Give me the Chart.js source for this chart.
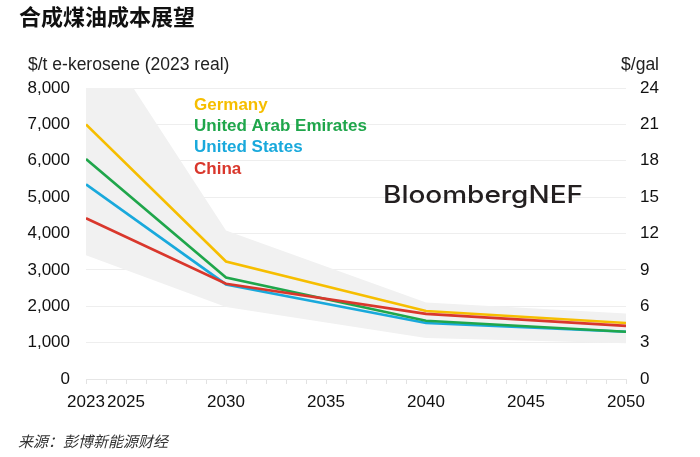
<!doctype html>
<html>
	<head>
		<meta charset="utf-8" />
		<title>合成煤油成本展望</title>
		<script src="https://cdn.jsdelivr.net/npm/chart.js@4/dist/chart.umd.min.js"></script>
		<style>
			html,
			body {
				margin: 0;
				padding: 0;
				background: #fff;
			}
		</style>
	</head>
	<body>
		<canvas id="chartJSContainer" width="700" height="457"></canvas>
		<script>
			// data
			const years = [2023, 2030, 2040, 2050];
			const germany = [7000, 3230, 1870, 1540];
			const uae = [6050, 2790, 1600, 1300];
			const unitedStates = [5350, 2600, 1540, 1300];
			const china = [4420, 2620, 1790, 1460];
			const rangeHigh = [10000, 4080, 2100, 1800];
			const rangeLow = [3400, 1980, 1130, 980];
			const xTickLabels = [2023, 2025, 2030, 2035, 2040, 2045, 2050];

			const seriesNames = ["Germany", "United Arab Emirates", "United States", "China"];
			const seriesColors = ["#f6be00", "#1fa64b", "#19a9dc", "#d9372c"];

			const latin = '"Liberation Sans", Arial, sans-serif';
			const cjk = '"Noto Sans CJK SC", sans-serif';

			const toPoints = (vals) => vals.map((v, i) => ({ x: years[i], y: v }));

			function lineSet(label, vals, color) {
				return {
					label: label,
					data: toPoints(vals),
					borderColor: color,
					backgroundColor: color,
					borderWidth: 2.6,
					pointRadius: 0,
					tension: 0,
					fill: false,
				};
			}

			const textPlugin = {
				id: "texts",
				afterDraw(chart) {
					const ctx = chart.ctx;
					ctx.save();
					ctx.textBaseline = "middle";

					// title
					ctx.fillStyle = "#111";
					ctx.font = "bold 22px " + cjk;
					ctx.textAlign = "left";
					ctx.fillText("合成煤油成本展望", 19, 17);

					// axis titles
					ctx.font = "17.5px " + latin;
					ctx.fillStyle = "#222";
					ctx.fillText("$/t e-kerosene (2023 real)", 28, 65);
					ctx.textAlign = "right";
					ctx.fillText("$/gal", 659, 65);

					// legend
					ctx.textAlign = "left";
					ctx.font = "bold 17px " + latin;
					seriesNames.forEach((n, i) => {
						ctx.fillStyle = seriesColors[i];
						ctx.fillText(n, 194, 105 + i * 21.3);
					});

					// watermark, squeezed to the width it has in the original
					ctx.fillStyle = "#231f20";
					ctx.font = "500 24px Inter, " + latin;
					const w = ctx.measureText("BloombergNEF").width;
					ctx.translate(383, 196);
					ctx.scale(200 / w, 1);
					ctx.fillText("BloombergNEF", 0, 0);
					ctx.setTransform(1, 0, 0, 1, 0, 0);

					// source
					ctx.fillStyle = "#333";
					ctx.font = "italic 15px " + cjk;
					ctx.fillText("来源：彭博新能源财经", 18, 441);
					ctx.restore();
				},
			};

			const ctx = document.getElementById("chartJSContainer").getContext("2d");
			new Chart(ctx, {
				type: "line",
				data: {
					datasets: [
						lineSet("China", china, seriesColors[3]),
						lineSet("Germany", germany, seriesColors[0]),
						lineSet("United Arab Emirates", uae, seriesColors[1]),
						lineSet("United States", unitedStates, seriesColors[2]),
						{
							label: "high",
							data: toPoints(rangeHigh),
							borderWidth: 0,
							pointRadius: 0,
							backgroundColor: "#f1f1f1",
							borderColor: "rgba(0,0,0,0)",
							fill: "+1",
						},
						{
							label: "low",
							data: toPoints(rangeLow),
							borderWidth: 0,
							pointRadius: 0,
							borderColor: "rgba(0,0,0,0)",
							fill: false,
						},
					],
				},
				options: {
					responsive: false,
					animation: false,
					devicePixelRatio: 1,
					layout: { padding: { top: 88, left: 0, right: 0, bottom: 0 } },
					plugins: {
						legend: { display: false },
						tooltip: { enabled: false },
						filler: { drawTime: "beforeDatasetsDraw" },
					},
					scales: {
						x: {
							type: "linear",
							min: 2023,
							max: 2050,
							afterBuildTicks(scale) {
								const t = [];
								for (let y = 2023; y <= 2050; y++) t.push({ value: y });
								scale.ticks = t;
							},
							afterFit(scale) {
								scale.height = 78;
							},
							ticks: {
								autoSkip: false,
								maxRotation: 0,
								padding: 8,
								color: "#111",
								font: { family: latin, size: 17 },
								callback: (v) => (xTickLabels.includes(v) ? String(v) : ""),
							},
							grid: {
								drawOnChartArea: false,
								tickLength: 5,
								color: "#e2e2e2",
							},
							border: { color: "#e6e6e6" },
						},
						y: {
							position: "left",
							min: 0,
							max: 8000,
							afterFit(scale) {
								scale.width = 86;
							},
							ticks: {
								stepSize: 1000,
								padding: 16,
								color: "#111",
								font: { family: latin, size: 17 },
								callback: (v) => v.toLocaleString("en-US"),
							},
							grid: { color: "#eeeeee", drawTicks: false },
							border: { display: false },
						},
						y2: {
							position: "right",
							min: 0,
							max: 24,
							afterFit(scale) {
								scale.width = 74;
							},
							ticks: {
								stepSize: 3,
								padding: 14,
								color: "#111",
								font: { family: latin, size: 17 },
							},
							grid: { display: false, drawTicks: false },
							border: { display: false },
						},
					},
				},
				plugins: [textPlugin],
			});
		</script>
	</body>
</html>
